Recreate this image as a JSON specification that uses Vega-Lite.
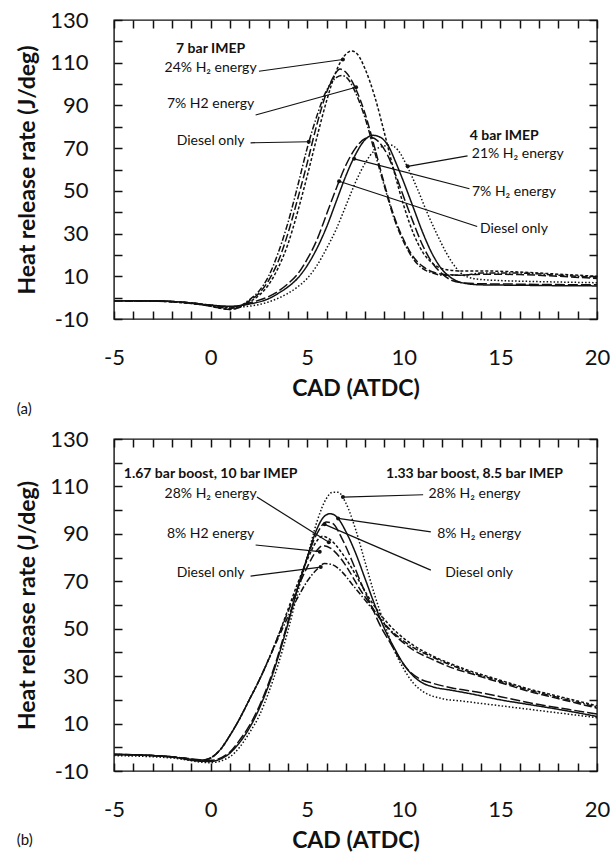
{
  "$schema": "https://vega.github.io/schema/vega-lite/v6.json",
  "padding": {"left": 16, "top": 8, "right": 12, "bottom": 2},
  "background": "white",
  "spacing": 9,
  "config": {
    "font": "Lato",
    "view": {"stroke": "#111", "strokeWidth": 1.4},
    "axis": {"labelFont": "Lato", "labelFontSize": 22, "labelColor": "#111", "titleFont": "Lato", "titleFontSize": 23, "titleFontWeight": "bold", "titleColor": "#111", "ticks": true, "tickColor": "#111", "tickWidth": 1.5, "tickSize": 8, "offset": -8, "grid": false, "domain": false},
    "title": {"font": "Lato", "fontSize": 15, "fontWeight": "normal", "color": "#111"},
    "text": {"font": "Lato", "fontSize": 14, "color": "#111"}
  },
  "datasets": {
    "curvesA": [
      {"series": "7bar_24", "cad": -5, "hrr": -1.5}, {"series": "7bar_24", "cad": -4, "hrr": -1.5}, {"series": "7bar_24", "cad": -3, "hrr": -1.6}, {"series": "7bar_24", "cad": -2, "hrr": -2}, {"series": "7bar_24", "cad": -1, "hrr": -2.8}, {"series": "7bar_24", "cad": 0, "hrr": -4}, {"series": "7bar_24", "cad": 0.5, "hrr": -5}, {"series": "7bar_24", "cad": 1, "hrr": -5.5}, {"series": "7bar_24", "cad": 1.5, "hrr": -4.5}, {"series": "7bar_24", "cad": 2, "hrr": -2}, {"series": "7bar_24", "cad": 2.5, "hrr": 1}, {"series": "7bar_24", "cad": 3, "hrr": 6}, {"series": "7bar_24", "cad": 3.5, "hrr": 14}, {"series": "7bar_24", "cad": 4, "hrr": 25}, {"series": "7bar_24", "cad": 4.5, "hrr": 40}, {"series": "7bar_24", "cad": 5, "hrr": 57}, {"series": "7bar_24", "cad": 5.5, "hrr": 75}, {"series": "7bar_24", "cad": 6, "hrr": 92}, {"series": "7bar_24", "cad": 6.5, "hrr": 106}, {"series": "7bar_24", "cad": 7, "hrr": 114}, {"series": "7bar_24", "cad": 7.3, "hrr": 115.5}, {"series": "7bar_24", "cad": 7.6, "hrr": 114}, {"series": "7bar_24", "cad": 8, "hrr": 107}, {"series": "7bar_24", "cad": 8.5, "hrr": 94}, {"series": "7bar_24", "cad": 9, "hrr": 77}, {"series": "7bar_24", "cad": 9.5, "hrr": 59}, {"series": "7bar_24", "cad": 10, "hrr": 43}, {"series": "7bar_24", "cad": 10.5, "hrr": 30}, {"series": "7bar_24", "cad": 11, "hrr": 21}, {"series": "7bar_24", "cad": 11.5, "hrr": 16}, {"series": "7bar_24", "cad": 12, "hrr": 13.5}, {"series": "7bar_24", "cad": 13, "hrr": 12.5}, {"series": "7bar_24", "cad": 14, "hrr": 12.5}, {"series": "7bar_24", "cad": 16, "hrr": 12}, {"series": "7bar_24", "cad": 18, "hrr": 11}, {"series": "7bar_24", "cad": 20, "hrr": 10},
      {"series": "7bar_7", "cad": -5, "hrr": -1.5}, {"series": "7bar_7", "cad": -3, "hrr": -1.6}, {"series": "7bar_7", "cad": -1, "hrr": -2.6}, {"series": "7bar_7", "cad": 0, "hrr": -4}, {"series": "7bar_7", "cad": 1, "hrr": -5.5}, {"series": "7bar_7", "cad": 1.5, "hrr": -4.5}, {"series": "7bar_7", "cad": 2, "hrr": -1.5}, {"series": "7bar_7", "cad": 2.5, "hrr": 2}, {"series": "7bar_7", "cad": 3, "hrr": 8}, {"series": "7bar_7", "cad": 3.5, "hrr": 17}, {"series": "7bar_7", "cad": 4, "hrr": 30}, {"series": "7bar_7", "cad": 4.5, "hrr": 46}, {"series": "7bar_7", "cad": 5, "hrr": 63}, {"series": "7bar_7", "cad": 5.5, "hrr": 81}, {"series": "7bar_7", "cad": 6, "hrr": 96}, {"series": "7bar_7", "cad": 6.4, "hrr": 104}, {"series": "7bar_7", "cad": 6.7, "hrr": 107}, {"series": "7bar_7", "cad": 7, "hrr": 105.5}, {"series": "7bar_7", "cad": 7.5, "hrr": 98}, {"series": "7bar_7", "cad": 8, "hrr": 86}, {"series": "7bar_7", "cad": 8.5, "hrr": 70}, {"series": "7bar_7", "cad": 9, "hrr": 53}, {"series": "7bar_7", "cad": 9.5, "hrr": 38}, {"series": "7bar_7", "cad": 10, "hrr": 27}, {"series": "7bar_7", "cad": 10.5, "hrr": 19}, {"series": "7bar_7", "cad": 11, "hrr": 14.5}, {"series": "7bar_7", "cad": 11.5, "hrr": 12}, {"series": "7bar_7", "cad": 12, "hrr": 11}, {"series": "7bar_7", "cad": 13, "hrr": 10.5}, {"series": "7bar_7", "cad": 14, "hrr": 11}, {"series": "7bar_7", "cad": 16, "hrr": 10.8}, {"series": "7bar_7", "cad": 18, "hrr": 10}, {"series": "7bar_7", "cad": 20, "hrr": 9},
      {"series": "7bar_d", "cad": -5, "hrr": -1.5}, {"series": "7bar_d", "cad": -3, "hrr": -1.6}, {"series": "7bar_d", "cad": -1, "hrr": -2.5}, {"series": "7bar_d", "cad": 0, "hrr": -3.8}, {"series": "7bar_d", "cad": 1, "hrr": -5}, {"series": "7bar_d", "cad": 1.5, "hrr": -4}, {"series": "7bar_d", "cad": 2, "hrr": -1}, {"series": "7bar_d", "cad": 2.5, "hrr": 3}, {"series": "7bar_d", "cad": 3, "hrr": 10}, {"series": "7bar_d", "cad": 3.5, "hrr": 21}, {"series": "7bar_d", "cad": 4, "hrr": 35}, {"series": "7bar_d", "cad": 4.5, "hrr": 52}, {"series": "7bar_d", "cad": 5, "hrr": 70}, {"series": "7bar_d", "cad": 5.5, "hrr": 85}, {"series": "7bar_d", "cad": 6, "hrr": 97}, {"series": "7bar_d", "cad": 6.5, "hrr": 103}, {"series": "7bar_d", "cad": 6.8, "hrr": 104}, {"series": "7bar_d", "cad": 7.1, "hrr": 102.5}, {"series": "7bar_d", "cad": 7.5, "hrr": 96}, {"series": "7bar_d", "cad": 8, "hrr": 84}, {"series": "7bar_d", "cad": 8.5, "hrr": 68}, {"series": "7bar_d", "cad": 9, "hrr": 52}, {"series": "7bar_d", "cad": 9.5, "hrr": 37}, {"series": "7bar_d", "cad": 10, "hrr": 26}, {"series": "7bar_d", "cad": 10.5, "hrr": 18}, {"series": "7bar_d", "cad": 11, "hrr": 13.5}, {"series": "7bar_d", "cad": 11.5, "hrr": 11.5}, {"series": "7bar_d", "cad": 12, "hrr": 10.5}, {"series": "7bar_d", "cad": 13, "hrr": 10.5}, {"series": "7bar_d", "cad": 14, "hrr": 11.5}, {"series": "7bar_d", "cad": 16, "hrr": 11.5}, {"series": "7bar_d", "cad": 18, "hrr": 10.5}, {"series": "7bar_d", "cad": 20, "hrr": 9.5},
      {"series": "4bar_7", "cad": -5, "hrr": -1.5}, {"series": "4bar_7", "cad": -3, "hrr": -1.5}, {"series": "4bar_7", "cad": -1, "hrr": -2.5}, {"series": "4bar_7", "cad": 0, "hrr": -3.5}, {"series": "4bar_7", "cad": 1, "hrr": -4}, {"series": "4bar_7", "cad": 2, "hrr": -3}, {"series": "4bar_7", "cad": 3, "hrr": -0.5}, {"series": "4bar_7", "cad": 3.5, "hrr": 2}, {"series": "4bar_7", "cad": 4, "hrr": 5}, {"series": "4bar_7", "cad": 4.5, "hrr": 9}, {"series": "4bar_7", "cad": 5, "hrr": 15}, {"series": "4bar_7", "cad": 5.5, "hrr": 23}, {"series": "4bar_7", "cad": 6, "hrr": 33}, {"series": "4bar_7", "cad": 6.5, "hrr": 45}, {"series": "4bar_7", "cad": 7, "hrr": 57}, {"series": "4bar_7", "cad": 7.5, "hrr": 67}, {"series": "4bar_7", "cad": 8, "hrr": 74}, {"series": "4bar_7", "cad": 8.4, "hrr": 76}, {"series": "4bar_7", "cad": 8.8, "hrr": 75}, {"series": "4bar_7", "cad": 9.2, "hrr": 71}, {"series": "4bar_7", "cad": 9.6, "hrr": 63}, {"series": "4bar_7", "cad": 10, "hrr": 54}, {"series": "4bar_7", "cad": 10.5, "hrr": 42}, {"series": "4bar_7", "cad": 11, "hrr": 30}, {"series": "4bar_7", "cad": 11.5, "hrr": 20}, {"series": "4bar_7", "cad": 12, "hrr": 13}, {"series": "4bar_7", "cad": 12.5, "hrr": 9}, {"series": "4bar_7", "cad": 13, "hrr": 7}, {"series": "4bar_7", "cad": 14, "hrr": 6}, {"series": "4bar_7", "cad": 16, "hrr": 5.8}, {"series": "4bar_7", "cad": 18, "hrr": 5.6}, {"series": "4bar_7", "cad": 20, "hrr": 5.5},
      {"series": "4bar_d", "cad": -5, "hrr": -1.5}, {"series": "4bar_d", "cad": -3, "hrr": -1.5}, {"series": "4bar_d", "cad": -1, "hrr": -2.5}, {"series": "4bar_d", "cad": 0, "hrr": -3.5}, {"series": "4bar_d", "cad": 1, "hrr": -4.5}, {"series": "4bar_d", "cad": 2, "hrr": -2.5}, {"series": "4bar_d", "cad": 3, "hrr": 0.5}, {"series": "4bar_d", "cad": 3.5, "hrr": 3}, {"series": "4bar_d", "cad": 4, "hrr": 6.5}, {"series": "4bar_d", "cad": 4.5, "hrr": 11}, {"series": "4bar_d", "cad": 5, "hrr": 18}, {"series": "4bar_d", "cad": 5.5, "hrr": 27}, {"series": "4bar_d", "cad": 6, "hrr": 39}, {"series": "4bar_d", "cad": 6.5, "hrr": 51}, {"series": "4bar_d", "cad": 7, "hrr": 62}, {"series": "4bar_d", "cad": 7.5, "hrr": 70}, {"series": "4bar_d", "cad": 8, "hrr": 74.5}, {"series": "4bar_d", "cad": 8.3, "hrr": 75}, {"series": "4bar_d", "cad": 8.7, "hrr": 73}, {"series": "4bar_d", "cad": 9.2, "hrr": 66}, {"series": "4bar_d", "cad": 9.6, "hrr": 57}, {"series": "4bar_d", "cad": 10, "hrr": 47}, {"series": "4bar_d", "cad": 10.5, "hrr": 35}, {"series": "4bar_d", "cad": 11, "hrr": 24}, {"series": "4bar_d", "cad": 11.5, "hrr": 16}, {"series": "4bar_d", "cad": 12, "hrr": 11}, {"series": "4bar_d", "cad": 12.5, "hrr": 8}, {"series": "4bar_d", "cad": 13, "hrr": 7}, {"series": "4bar_d", "cad": 14, "hrr": 6.5}, {"series": "4bar_d", "cad": 16, "hrr": 6.3}, {"series": "4bar_d", "cad": 18, "hrr": 6.1}, {"series": "4bar_d", "cad": 20, "hrr": 6},
      {"series": "4bar_21", "cad": -5, "hrr": -1.5}, {"series": "4bar_21", "cad": -3, "hrr": -1.5}, {"series": "4bar_21", "cad": -1, "hrr": -2.5}, {"series": "4bar_21", "cad": 0, "hrr": -3.5}, {"series": "4bar_21", "cad": 1, "hrr": -4.5}, {"series": "4bar_21", "cad": 2, "hrr": -4}, {"series": "4bar_21", "cad": 3, "hrr": -2}, {"series": "4bar_21", "cad": 4, "hrr": 2}, {"series": "4bar_21", "cad": 4.5, "hrr": 5}, {"series": "4bar_21", "cad": 5, "hrr": 9}, {"series": "4bar_21", "cad": 5.5, "hrr": 15}, {"series": "4bar_21", "cad": 6, "hrr": 23}, {"series": "4bar_21", "cad": 6.5, "hrr": 32}, {"series": "4bar_21", "cad": 7, "hrr": 43}, {"series": "4bar_21", "cad": 7.5, "hrr": 54}, {"series": "4bar_21", "cad": 8, "hrr": 63}, {"series": "4bar_21", "cad": 8.5, "hrr": 69}, {"series": "4bar_21", "cad": 9, "hrr": 71}, {"series": "4bar_21", "cad": 9.3, "hrr": 71.5}, {"series": "4bar_21", "cad": 9.7, "hrr": 69}, {"series": "4bar_21", "cad": 10.2, "hrr": 61}, {"series": "4bar_21", "cad": 10.7, "hrr": 51}, {"series": "4bar_21", "cad": 11.2, "hrr": 40}, {"series": "4bar_21", "cad": 11.7, "hrr": 30}, {"series": "4bar_21", "cad": 12.2, "hrr": 21}, {"series": "4bar_21", "cad": 12.7, "hrr": 14}, {"series": "4bar_21", "cad": 13.2, "hrr": 10}, {"series": "4bar_21", "cad": 14, "hrr": 8.5}, {"series": "4bar_21", "cad": 15, "hrr": 8}, {"series": "4bar_21", "cad": 17, "hrr": 7.5}, {"series": "4bar_21", "cad": 20, "hrr": 7}
    ],
    "curvesB": [
      {"series": "L28", "cad": -5, "hrr": -3}, {"series": "L28", "cad": -3, "hrr": -3.5}, {"series": "L28", "cad": -1.5, "hrr": -4.5}, {"series": "L28", "cad": -0.5, "hrr": -5.5}, {"series": "L28", "cad": 0, "hrr": -4.5}, {"series": "L28", "cad": 0.5, "hrr": -1}, {"series": "L28", "cad": 1, "hrr": 5}, {"series": "L28", "cad": 1.5, "hrr": 12}, {"series": "L28", "cad": 2, "hrr": 20}, {"series": "L28", "cad": 2.5, "hrr": 28}, {"series": "L28", "cad": 3, "hrr": 37}, {"series": "L28", "cad": 3.5, "hrr": 47}, {"series": "L28", "cad": 4, "hrr": 58}, {"series": "L28", "cad": 4.5, "hrr": 69}, {"series": "L28", "cad": 5, "hrr": 79}, {"series": "L28", "cad": 5.5, "hrr": 87}, {"series": "L28", "cad": 5.8, "hrr": 89}, {"series": "L28", "cad": 6.2, "hrr": 87.5}, {"series": "L28", "cad": 6.7, "hrr": 83}, {"series": "L28", "cad": 7.2, "hrr": 77}, {"series": "L28", "cad": 7.7, "hrr": 70}, {"series": "L28", "cad": 8.2, "hrr": 63}, {"series": "L28", "cad": 8.7, "hrr": 57}, {"series": "L28", "cad": 9.2, "hrr": 52}, {"series": "L28", "cad": 9.7, "hrr": 48}, {"series": "L28", "cad": 10.5, "hrr": 43}, {"series": "L28", "cad": 11.5, "hrr": 38.5}, {"series": "L28", "cad": 12.5, "hrr": 35}, {"series": "L28", "cad": 13.5, "hrr": 32}, {"series": "L28", "cad": 14.5, "hrr": 29.5}, {"series": "L28", "cad": 15.5, "hrr": 27}, {"series": "L28", "cad": 16.5, "hrr": 24.5}, {"series": "L28", "cad": 17.5, "hrr": 22.5}, {"series": "L28", "cad": 18.5, "hrr": 20.5}, {"series": "L28", "cad": 20, "hrr": 17.5},
      {"series": "L8", "cad": -5, "hrr": -3}, {"series": "L8", "cad": -3, "hrr": -3.5}, {"series": "L8", "cad": -1.5, "hrr": -4.5}, {"series": "L8", "cad": -0.5, "hrr": -5.5}, {"series": "L8", "cad": 0, "hrr": -4.5}, {"series": "L8", "cad": 0.5, "hrr": -1}, {"series": "L8", "cad": 1, "hrr": 5}, {"series": "L8", "cad": 1.5, "hrr": 12}, {"series": "L8", "cad": 2, "hrr": 20}, {"series": "L8", "cad": 2.5, "hrr": 28}, {"series": "L8", "cad": 3, "hrr": 37}, {"series": "L8", "cad": 3.5, "hrr": 47}, {"series": "L8", "cad": 4, "hrr": 57}, {"series": "L8", "cad": 4.5, "hrr": 67}, {"series": "L8", "cad": 5, "hrr": 76}, {"series": "L8", "cad": 5.5, "hrr": 83}, {"series": "L8", "cad": 5.8, "hrr": 85}, {"series": "L8", "cad": 6.2, "hrr": 84}, {"series": "L8", "cad": 6.7, "hrr": 80}, {"series": "L8", "cad": 7.2, "hrr": 74}, {"series": "L8", "cad": 7.7, "hrr": 67}, {"series": "L8", "cad": 8.2, "hrr": 61}, {"series": "L8", "cad": 8.7, "hrr": 55}, {"series": "L8", "cad": 9.2, "hrr": 50}, {"series": "L8", "cad": 9.7, "hrr": 46}, {"series": "L8", "cad": 10.5, "hrr": 41}, {"series": "L8", "cad": 11.5, "hrr": 37}, {"series": "L8", "cad": 12.5, "hrr": 33.5}, {"series": "L8", "cad": 13.5, "hrr": 31}, {"series": "L8", "cad": 14.5, "hrr": 28.5}, {"series": "L8", "cad": 15.5, "hrr": 26}, {"series": "L8", "cad": 16.5, "hrr": 23.5}, {"series": "L8", "cad": 17.5, "hrr": 21.5}, {"series": "L8", "cad": 18.5, "hrr": 19.5}, {"series": "L8", "cad": 20, "hrr": 16.5},
      {"series": "Ld", "cad": -5, "hrr": -3}, {"series": "Ld", "cad": -3, "hrr": -3.5}, {"series": "Ld", "cad": -1.5, "hrr": -4.5}, {"series": "Ld", "cad": -0.5, "hrr": -5.5}, {"series": "Ld", "cad": 0, "hrr": -4.5}, {"series": "Ld", "cad": 0.5, "hrr": -1}, {"series": "Ld", "cad": 1, "hrr": 5}, {"series": "Ld", "cad": 1.5, "hrr": 12}, {"series": "Ld", "cad": 2, "hrr": 20}, {"series": "Ld", "cad": 2.5, "hrr": 28}, {"series": "Ld", "cad": 3, "hrr": 37}, {"series": "Ld", "cad": 3.5, "hrr": 46}, {"series": "Ld", "cad": 4, "hrr": 55}, {"series": "Ld", "cad": 4.5, "hrr": 63}, {"series": "Ld", "cad": 5, "hrr": 70}, {"series": "Ld", "cad": 5.5, "hrr": 75}, {"series": "Ld", "cad": 5.9, "hrr": 77.5}, {"series": "Ld", "cad": 6.3, "hrr": 77}, {"series": "Ld", "cad": 6.8, "hrr": 74}, {"series": "Ld", "cad": 7.3, "hrr": 69}, {"series": "Ld", "cad": 7.8, "hrr": 64}, {"series": "Ld", "cad": 8.3, "hrr": 59}, {"series": "Ld", "cad": 8.8, "hrr": 54}, {"series": "Ld", "cad": 9.3, "hrr": 49.5}, {"series": "Ld", "cad": 9.8, "hrr": 46}, {"series": "Ld", "cad": 10.5, "hrr": 42}, {"series": "Ld", "cad": 11.5, "hrr": 38}, {"series": "Ld", "cad": 12.5, "hrr": 34.5}, {"series": "Ld", "cad": 13.5, "hrr": 31.5}, {"series": "Ld", "cad": 14.5, "hrr": 29}, {"series": "Ld", "cad": 15.5, "hrr": 26.5}, {"series": "Ld", "cad": 16.5, "hrr": 24}, {"series": "Ld", "cad": 17.5, "hrr": 22}, {"series": "Ld", "cad": 18.5, "hrr": 20}, {"series": "Ld", "cad": 20, "hrr": 17},
      {"series": "R28", "cad": -5, "hrr": -3.5}, {"series": "R28", "cad": -2, "hrr": -4.5}, {"series": "R28", "cad": 0, "hrr": -6.5}, {"series": "R28", "cad": 1, "hrr": -4}, {"series": "R28", "cad": 1.5, "hrr": 0}, {"series": "R28", "cad": 2, "hrr": 6}, {"series": "R28", "cad": 2.5, "hrr": 13}, {"series": "R28", "cad": 3, "hrr": 23}, {"series": "R28", "cad": 3.5, "hrr": 35}, {"series": "R28", "cad": 4, "hrr": 49}, {"series": "R28", "cad": 4.5, "hrr": 65}, {"series": "R28", "cad": 5, "hrr": 80}, {"series": "R28", "cad": 5.5, "hrr": 95}, {"series": "R28", "cad": 6, "hrr": 105}, {"series": "R28", "cad": 6.3, "hrr": 107.5}, {"series": "R28", "cad": 6.6, "hrr": 107.5}, {"series": "R28", "cad": 7, "hrr": 103}, {"series": "R28", "cad": 7.5, "hrr": 92}, {"series": "R28", "cad": 8, "hrr": 78}, {"series": "R28", "cad": 8.5, "hrr": 64}, {"series": "R28", "cad": 9, "hrr": 52}, {"series": "R28", "cad": 9.5, "hrr": 41}, {"series": "R28", "cad": 10, "hrr": 33}, {"series": "R28", "cad": 10.5, "hrr": 27}, {"series": "R28", "cad": 11, "hrr": 23.5}, {"series": "R28", "cad": 12, "hrr": 20.5}, {"series": "R28", "cad": 13, "hrr": 19.5}, {"series": "R28", "cad": 14, "hrr": 18.5}, {"series": "R28", "cad": 15, "hrr": 17.5}, {"series": "R28", "cad": 16.5, "hrr": 16}, {"series": "R28", "cad": 18, "hrr": 14.5}, {"series": "R28", "cad": 20, "hrr": 12.5},
      {"series": "R8", "cad": -5, "hrr": -3}, {"series": "R8", "cad": -2, "hrr": -4}, {"series": "R8", "cad": -1, "hrr": -5.5}, {"series": "R8", "cad": 0, "hrr": -6}, {"series": "R8", "cad": 0.5, "hrr": -5}, {"series": "R8", "cad": 1, "hrr": -2.5}, {"series": "R8", "cad": 1.5, "hrr": 2}, {"series": "R8", "cad": 2, "hrr": 8}, {"series": "R8", "cad": 2.5, "hrr": 16}, {"series": "R8", "cad": 3, "hrr": 26}, {"series": "R8", "cad": 3.5, "hrr": 38}, {"series": "R8", "cad": 4, "hrr": 52}, {"series": "R8", "cad": 4.5, "hrr": 67}, {"series": "R8", "cad": 5, "hrr": 80}, {"series": "R8", "cad": 5.5, "hrr": 92}, {"series": "R8", "cad": 5.9, "hrr": 97.5}, {"series": "R8", "cad": 6.2, "hrr": 98.5}, {"series": "R8", "cad": 6.6, "hrr": 96.5}, {"series": "R8", "cad": 7, "hrr": 91}, {"series": "R8", "cad": 7.5, "hrr": 82}, {"series": "R8", "cad": 8, "hrr": 71}, {"series": "R8", "cad": 8.5, "hrr": 60}, {"series": "R8", "cad": 9, "hrr": 50}, {"series": "R8", "cad": 9.5, "hrr": 42}, {"series": "R8", "cad": 10, "hrr": 35}, {"series": "R8", "cad": 10.5, "hrr": 30}, {"series": "R8", "cad": 11, "hrr": 27}, {"series": "R8", "cad": 11.5, "hrr": 25.5}, {"series": "R8", "cad": 12.5, "hrr": 24}, {"series": "R8", "cad": 13.5, "hrr": 22.5}, {"series": "R8", "cad": 15, "hrr": 20}, {"series": "R8", "cad": 16.5, "hrr": 18}, {"series": "R8", "cad": 18, "hrr": 16}, {"series": "R8", "cad": 20, "hrr": 13},
      {"series": "Rd", "cad": -5, "hrr": -3}, {"series": "Rd", "cad": -2, "hrr": -4}, {"series": "Rd", "cad": 0, "hrr": -5.5}, {"series": "Rd", "cad": 1, "hrr": -2}, {"series": "Rd", "cad": 1.5, "hrr": 3}, {"series": "Rd", "cad": 2, "hrr": 9}, {"series": "Rd", "cad": 2.5, "hrr": 17}, {"series": "Rd", "cad": 3, "hrr": 27}, {"series": "Rd", "cad": 3.5, "hrr": 39}, {"series": "Rd", "cad": 4, "hrr": 53}, {"series": "Rd", "cad": 4.5, "hrr": 67}, {"series": "Rd", "cad": 5, "hrr": 80}, {"series": "Rd", "cad": 5.5, "hrr": 90}, {"series": "Rd", "cad": 6, "hrr": 95}, {"series": "Rd", "cad": 6.3, "hrr": 94.5}, {"series": "Rd", "cad": 6.8, "hrr": 88}, {"series": "Rd", "cad": 7.3, "hrr": 79}, {"series": "Rd", "cad": 7.8, "hrr": 69}, {"series": "Rd", "cad": 8.3, "hrr": 60}, {"series": "Rd", "cad": 8.8, "hrr": 51}, {"series": "Rd", "cad": 9.3, "hrr": 44}, {"series": "Rd", "cad": 9.8, "hrr": 37}, {"series": "Rd", "cad": 10.3, "hrr": 32}, {"series": "Rd", "cad": 10.8, "hrr": 29}, {"series": "Rd", "cad": 11.5, "hrr": 27}, {"series": "Rd", "cad": 12.5, "hrr": 25}, {"series": "Rd", "cad": 14, "hrr": 23}, {"series": "Rd", "cad": 15.5, "hrr": 20.5}, {"series": "Rd", "cad": 17, "hrr": 18}, {"series": "Rd", "cad": 18.5, "hrr": 16}, {"series": "Rd", "cad": 20, "hrr": 14}
    ],
    "notesA": [
      {"label": "7 bar IMEP", "x": 0, "y": 116.5, "bold": true},
      {"label": "24% H₂ energy", "x": 0, "y": 107.5, "bold": false},
      {"label": "7% H2 energy", "x": 0, "y": 90.5, "bold": false},
      {"label": "Diesel only", "x": 0, "y": 73.5, "bold": false},
      {"label": "4 bar IMEP", "x": 15.2, "y": 75.8, "bold": true},
      {"label": "21% H₂ energy", "x": 15.9, "y": 67.4, "bold": false},
      {"label": "7% H₂ energy", "x": 15.7, "y": 49.6, "bold": false},
      {"label": "Diesel only", "x": 15.7, "y": 32.3, "bold": false}
    ],
    "leadersA": [
      {"x1": 2.5, "y1": 106, "x2": 6.85, "y2": 111.5},
      {"x1": 2.33, "y1": 85.5, "x2": 7.53, "y2": 98.5},
      {"x1": 2.07, "y1": 72.5, "x2": 5.08, "y2": 73},
      {"x1": 13.3, "y1": 66.4, "x2": 10.2, "y2": 61.5},
      {"x1": 13.4, "y1": 51, "x2": 7.43, "y2": 65},
      {"x1": 13.8, "y1": 33.3, "x2": 6.65, "y2": 54.5}
    ],
    "notesB": [
      {"label": "1.67 bar boost, 10 bar IMEP", "x": 0, "y": 115.2, "bold": true},
      {"label": "28% H₂ energy", "x": 0, "y": 106.8, "bold": false},
      {"label": "8% H2 energy", "x": 0, "y": 90, "bold": false},
      {"label": "Diesel only", "x": 0, "y": 73.5, "bold": false},
      {"label": "1.33 bar boost, 8.5 bar IMEP", "x": 13.66, "y": 115.2, "bold": true},
      {"label": "28% H₂ energy", "x": 13.66, "y": 106.8, "bold": false},
      {"label": "8% H₂ energy", "x": 13.9, "y": 90, "bold": false},
      {"label": "Diesel only", "x": 13.9, "y": 73.5, "bold": false}
    ],
    "leadersB": [
      {"x1": 2.4, "y1": 105.5, "x2": 6.12, "y2": 86.5},
      {"x1": 2.33, "y1": 85.3, "x2": 5.65, "y2": 82.5},
      {"x1": 2.07, "y1": 72.2, "x2": 5.7, "y2": 76},
      {"x1": 11.0, "y1": 106.5, "x2": 6.85, "y2": 105.5},
      {"x1": 11.4, "y1": 90.8, "x2": 6.6, "y2": 96.5},
      {"x1": 11.4, "y1": 74.7, "x2": 5.9, "y2": 94}
    ]
  },
  "vconcat": [
    {
      "width": 483,
      "height": 299,
      "title": {"text": "(a)", "orient": "bottom", "anchor": "start", "frame": "bounds", "offset": 2},
      "resolve": {"axis": {"x": "independent", "y": "independent"}},
      "layer": [
        {
          "data": {"name": "curvesA"},
          "mark": {"type": "line", "interpolate": "monotone", "strokeWidth": 1.5, "color": "#111"},
          "encoding": {
            "x": {"field": "cad", "type": "quantitative", "scale": {"domain": [-5, 20], "nice": false, "zero": false},
              "axis": {"orient": "bottom", "title": "CAD (ATDC)", "values": [-5,-4,-3,-2,-1,0,1,2,3,4,5,6,7,8,9,10,11,12,13,14,15,16,17,18,19,20], "labelExpr": "datum.value % 5 === 0 ? '' + datum.value : ''", "labelPadding": 28, "titlePadding": 9, "labelFlush": false}},
            "y": {"field": "hrr", "type": "quantitative", "scale": {"domain": [-10, 130], "nice": false, "zero": false},
              "axis": {"orient": "left", "title": "Heat release rate (J/deg)", "values": [-10,0,10,20,30,40,50,60,70,80,90,100,110,120,130], "labelExpr": "(datum.value + 10) % 20 === 0 ? '' + datum.value : ''", "labelPadding": 26, "titlePadding": 10, "labelFlush": false}},
            "detail": {"field": "series", "type": "nominal"},
            "strokeDash": {"field": "series", "type": "nominal", "legend": null,
              "scale": {"domain": ["7bar_24", "7bar_7", "7bar_d", "4bar_21", "4bar_7", "4bar_d"], "range": [[3, 2], [8, 3], [6, 2, 1.5, 2], [1.5, 2], [1, 0], [10, 3]]}}
          }
        },
        {
          "data": {"name": "leadersA"},
          "mark": {"type": "rule", "strokeWidth": 1.2, "color": "#111"},
          "encoding": {
            "x": {"field": "x1", "type": "quantitative", "axis": {"orient": "top", "title": null, "labels": false, "values": [-5,-4,-3,-2,-1,0,1,2,3,4,5,6,7,8,9,10,11,12,13,14,15,16,17,18,19,20]}},
            "y": {"field": "y1", "type": "quantitative", "axis": {"orient": "right", "title": null, "labels": false, "values": [-10,0,10,20,30,40,50,60,70,80,90,100,110,120,130]}},
            "x2": {"field": "x2"},
            "y2": {"field": "y2"}
          }
        },
        {
          "data": {"name": "leadersA"},
          "mark": {"type": "circle", "size": 16, "color": "#111", "opacity": 1},
          "encoding": {
            "x": {"field": "x2", "type": "quantitative", "axis": null},
            "y": {"field": "y2", "type": "quantitative", "axis": null}
          }
        },
        {
          "data": {"name": "notesA"},
          "transform": [{"filter": "datum.bold"}],
          "mark": {"type": "text", "fontWeight": "bold", "fontSize": 14, "align": "center", "baseline": "middle"},
          "encoding": {
            "x": {"field": "x", "type": "quantitative", "axis": null},
            "y": {"field": "y", "type": "quantitative", "axis": null},
            "text": {"field": "label"}
          }
        },
        {
          "data": {"name": "notesA"},
          "transform": [{"filter": "!datum.bold"}],
          "mark": {"type": "text", "fontSize": 14, "align": "center", "baseline": "middle"},
          "encoding": {
            "x": {"field": "x", "type": "quantitative", "axis": null},
            "y": {"field": "y", "type": "quantitative", "axis": null},
            "text": {"field": "label"}
          }
        }
      ]
    },
    {
      "width": 483,
      "height": 332,
      "title": {"text": "(b)", "orient": "bottom", "anchor": "start", "frame": "bounds", "offset": -19},
      "resolve": {"axis": {"x": "independent", "y": "independent"}},
      "layer": [
        {
          "data": {"name": "curvesB"},
          "mark": {"type": "line", "interpolate": "monotone", "strokeWidth": 1.5, "color": "#111"},
          "encoding": {
            "x": {"field": "cad", "type": "quantitative", "scale": {"domain": [-5, 20], "nice": false, "zero": false},
              "axis": {"orient": "bottom", "title": "CAD (ATDC)", "values": [-5,-4,-3,-2,-1,0,1,2,3,4,5,6,7,8,9,10,11,12,13,14,15,16,17,18,19,20], "labelExpr": "datum.value % 5 === 0 ? '' + datum.value : ''", "labelPadding": 28, "titlePadding": 9, "labelFlush": false}},
            "y": {"field": "hrr", "type": "quantitative", "scale": {"domain": [-10, 130], "nice": false, "zero": false},
              "axis": {"orient": "left", "title": "Heat release rate (J/deg)", "values": [-10,0,10,20,30,40,50,60,70,80,90,100,110,120,130], "labelExpr": "(datum.value + 10) % 20 === 0 ? '' + datum.value : ''", "labelPadding": 26, "titlePadding": 10, "labelFlush": false}},
            "detail": {"field": "series", "type": "nominal"},
            "strokeDash": {"field": "series", "type": "nominal", "legend": null,
              "scale": {"domain": ["L28", "L8", "Ld", "R28", "R8", "Rd"], "range": [[3, 2], [8, 2, 2, 2, 2, 2], [6, 2, 1.5, 2], [1.5, 2], [1, 0], [10, 3]]}}
          }
        },
        {
          "data": {"name": "leadersB"},
          "mark": {"type": "rule", "strokeWidth": 1.2, "color": "#111"},
          "encoding": {
            "x": {"field": "x1", "type": "quantitative", "axis": {"orient": "top", "title": null, "labels": false, "values": [-5,-4,-3,-2,-1,0,1,2,3,4,5,6,7,8,9,10,11,12,13,14,15,16,17,18,19,20]}},
            "y": {"field": "y1", "type": "quantitative", "axis": {"orient": "right", "title": null, "labels": false, "values": [-10,0,10,20,30,40,50,60,70,80,90,100,110,120,130]}},
            "x2": {"field": "x2"},
            "y2": {"field": "y2"}
          }
        },
        {
          "data": {"name": "leadersB"},
          "mark": {"type": "circle", "size": 16, "color": "#111", "opacity": 1},
          "encoding": {
            "x": {"field": "x2", "type": "quantitative", "axis": null},
            "y": {"field": "y2", "type": "quantitative", "axis": null}
          }
        },
        {
          "data": {"name": "notesB"},
          "transform": [{"filter": "datum.bold"}],
          "mark": {"type": "text", "fontWeight": "bold", "fontSize": 14, "align": "center", "baseline": "middle"},
          "encoding": {
            "x": {"field": "x", "type": "quantitative", "axis": null},
            "y": {"field": "y", "type": "quantitative", "axis": null},
            "text": {"field": "label"}
          }
        },
        {
          "data": {"name": "notesB"},
          "transform": [{"filter": "!datum.bold"}],
          "mark": {"type": "text", "fontSize": 14, "align": "center", "baseline": "middle"},
          "encoding": {
            "x": {"field": "x", "type": "quantitative", "axis": null},
            "y": {"field": "y", "type": "quantitative", "axis": null},
            "text": {"field": "label"}
          }
        }
      ]
    }
  ]
}
